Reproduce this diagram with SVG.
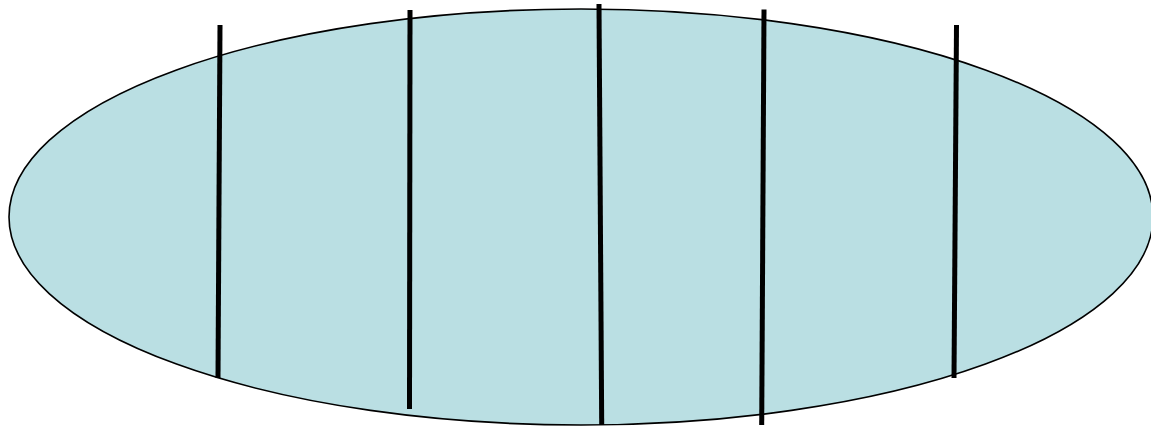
<svg xmlns="http://www.w3.org/2000/svg" width="1151" height="427" viewBox="0 0 1151 427">
<style>
.body{fill:#badfe3;stroke:#000;stroke-width:1.6}
.bar{stroke:#000;stroke-width:5;fill:none}
</style>
<rect width="1151" height="427" fill="#fff"/>
<g id="ellipse">
<ellipse class="body" cx="581" cy="217" rx="572" ry="208"/>
</g>
<g id="lines">
<line class="bar" x1="220" y1="25" x2="218" y2="378"/>
<line class="bar" x1="410" y1="10" x2="409.5" y2="409"/>
<line class="bar" x1="599" y1="4" x2="601.7" y2="425"/>
<line class="bar" x1="764" y1="9.5" x2="761.7" y2="425"/>
<line class="bar" x1="956.5" y1="25" x2="954" y2="378"/>
</g>
</svg>
